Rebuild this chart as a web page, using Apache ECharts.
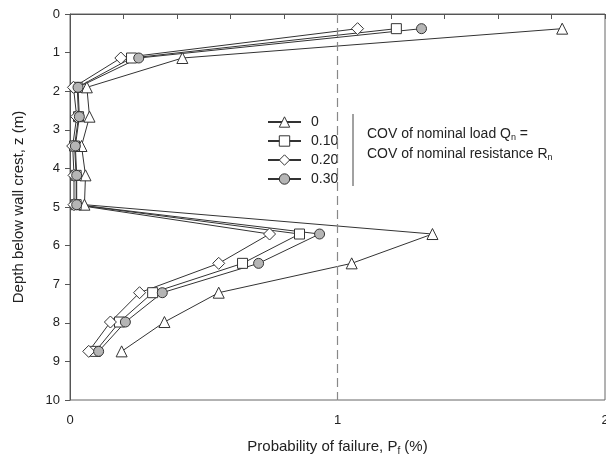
<!DOCTYPE html>
<html>
<head>
    <meta charset="utf-8" />
    <title>Probability of failure vs depth</title>
    <style>
        html, body { margin: 0; padding: 0; background: #fff; }
        #main { width: 606px; height: 464px; }
    </style>
</head>
<body>
<div id="main"></div>
<script src="https://cdn.jsdelivr.net/npm/echarts@6/dist/echarts.min.js"></script>
<script>
    // depth below wall crest (m)
    var depth = [0.38, 1.14, 1.9, 2.66, 3.42, 4.18, 4.94, 5.7, 6.46, 7.22, 7.98, 8.74];
    // probability of failure (%) for each COV
    var pf0  = [1.84, 0.42, 0.063, 0.073, 0.043, 0.058, 0.054, 1.355, 1.053, 0.556, 0.353, 0.193];
    var pf10 = [1.22, 0.23, 0.027, 0.032, 0.017, 0.023, 0.023, 0.858, 0.645, 0.309, 0.185, 0.095];
    var pf20 = [1.075, 0.19, 0.013, 0.025, 0.01, 0.015, 0.015, 0.746, 0.556, 0.26, 0.151, 0.07];
    var pf30 = [1.314, 0.257, 0.03, 0.035, 0.02, 0.025, 0.025, 0.933, 0.705, 0.345, 0.207, 0.107];
    var covNames = ['0', '0.10', '0.20', '0.30'];

    var font = "'Liberation Sans', Arial, sans-serif";
    var ink = '#222';
    var symbols = ['triangle', 'rect', 'diamond', 'circle'];
    var fills = ['#fff', '#fff', '#fff', '#b5b5b5'];

    function pairs(p) {
        return p.map(function (v, i) { return [v, depth[i]]; });
    }

    function makeSeries(name, p, symbol, size, fill) {
        return {
            name: name,
            type: 'line',
            data: pairs(p),
            symbol: symbol,
            symbolSize: size,
            showAllSymbol: true,
            lineStyle: { color: '#333', width: 1 },
            itemStyle: { color: fill, borderColor: '#333', borderWidth: 1 },
            emphasis: { disabled: true }
        };
    }

    var series = [
        makeSeries(covNames[0], pf0, symbols[0], 11, fills[0]),
        makeSeries(covNames[1], pf10, symbols[1], 10, fills[1]),
        makeSeries(covNames[2], pf20, symbols[2], 12, fills[2]),
        makeSeries(covNames[3], pf30, symbols[3], 10, fills[3])
    ];
    // dashed reference line at Pf = 1 %
    series[0].markLine = {
        silent: true,
        symbol: 'none',
        label: { show: false },
        lineStyle: { color: '#888', type: [9, 5], width: 1.2 },
        data: [{ xAxis: 1 }]
    };

    var legendData = covNames.map(function (n, i) {
        return {
            name: n,
            itemStyle: { color: fills[i], borderColor: '#333', borderWidth: 1 }
        };
    });

    var chart = echarts.init(document.getElementById('main'));
    chart.setOption({
        animation: false,
        textStyle: { fontFamily: font },
        grid: {
            left: 70, right: 1, top: 14, bottom: 64,
            outerBoundsMode: 'none', containLabel: false,
            show: true, borderColor: '#666', borderWidth: 1
        },
        legend: {
            orient: 'vertical',
            left: 267, top: 115, padding: 0,
            itemWidth: 33, itemHeight: 13, itemGap: 5,
            textStyle: { fontFamily: font, fontSize: 14, color: ink, padding: [0, 0, 0, 5] },
            data: legendData
        },
        xAxis: {
            type: 'value', min: 0, max: 2, interval: 1,
            name: 'Probability of failure, P{s|f} (%)',
            nameLocation: 'middle', nameGap: 38,
            nameTextStyle: {
                fontFamily: font, fontSize: 15, color: ink,
                rich: { s: { fontFamily: font, fontSize: 10, color: ink, padding: [8, 0, 0, 0] } }
            },
            axisLine: { lineStyle: { color: '#555' } },
            axisTick: { inside: false, length: 5, lineStyle: { color: '#555' } },
            minorTick: { show: true, splitNumber: 5, length: 5, lineStyle: { color: '#555' } },
            axisLabel: { margin: 14, fontSize: 13, color: ink },
            splitLine: { show: false }
        },
        yAxis: {
            type: 'value', min: 0, max: 10, interval: 1, inverse: true,
            name: 'Depth below wall crest, z (m)',
            nameLocation: 'middle', nameGap: 44,
            nameTextStyle: { fontFamily: font, fontSize: 15, color: ink },
            axisLine: { lineStyle: { color: '#555' } },
            axisTick: { inside: false, length: 5, lineStyle: { color: '#555' } },
            axisLabel: { margin: 10, fontSize: 13, color: ink },
            splitLine: { show: false }
        },
        graphic: [
            {
                type: 'line',
                shape: { x1: 353, y1: 114, x2: 353, y2: 186 },
                style: { stroke: '#444', lineWidth: 1 }
            },
            {
                type: 'text', left: 367, top: 127,
                style: {
                    text: 'COV of nominal load Q{s|n} =',
                    font: '14px ' + font, fill: ink,
                    rich: { s: { fontSize: 9, fill: ink, padding: [7, 0, 0, 0] } }
                }
            },
            {
                type: 'text', left: 367, top: 147,
                style: {
                    text: 'COV of nominal resistance R{s|n}',
                    font: '14px ' + font, fill: ink,
                    rich: { s: { fontSize: 9, fill: ink, padding: [7, 0, 0, 0] } }
                }
            }
        ],
        series: series
    });
</script>
</body>
</html>
